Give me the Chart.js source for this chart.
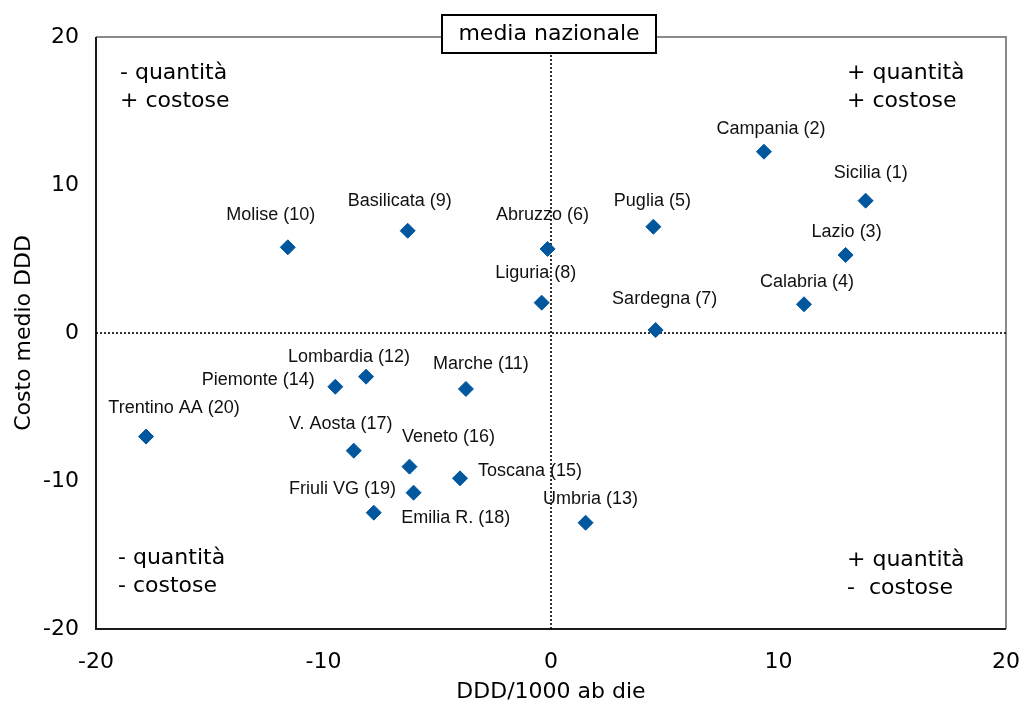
<!DOCTYPE html>
<html><head><meta charset="utf-8">
<script src="https://cdn.jsdelivr.net/npm/chart.js@4/dist/chart.umd.min.js"></script>
<style>html,body{margin:0;padding:0;background:#fff}#wrap{width:1022px;height:706px}</style>
</head><body><div id="wrap"><canvas id="c" width="1022" height="706"></canvas></div>
<script>
// ---- data ----
const regions = ['Sicilia (1)','Campania (2)','Lazio (3)','Calabria (4)','Puglia (5)','Abruzzo (6)','Sardegna (7)','Liguria (8)','Basilicata (9)','Molise (10)','Marche (11)','Lombardia (12)','Umbria (13)','Piemonte (14)','Toscana (15)','Veneto (16)','V. Aosta (17)','Emilia R. (18)','Friuli VG (19)','Trentino AA (20)'];
const dddPer1000 = [13.83, 9.36, 12.95, 11.12, 4.50, -0.15, 4.60, -0.41, -6.30, -11.57, -3.74, -8.13, 1.52, -9.48, -4.00, -6.22, -8.67, -7.79, -6.04, -17.80];
const costoMedio = [8.94, 12.25, 5.27, 1.94, 7.18, 5.68, 0.20, 2.05, 6.91, 5.79, -3.78, -2.95, -12.82, -3.63, -9.82, -9.03, -7.95, -12.14, -10.79, -7.00];
const mediaX = 0;
const mediaY = 0;
const xTicks = [-20, -10, 0, 10, 20];
const yTicks = [-20, -10, 0, 10, 20];
const quadTopLeft = ['- quantità', '+ costose'];
const quadTopRight = ['+ quantità', '+ costose'];
const quadBottomLeft = ['- quantità', '- costose'];
const quadBottomRight = ['+ quantità', '-  costose'];
const mediaLabel = 'media nazionale';
const xTitle = 'DDD/1000 ab die';
const yTitle = 'Costo medio DDD';

// ---- style (label placement offsets in px, text centre relative to marker) ----
const labelOffsets = [[5,-28],[7,-23],[1,-23],[3,-22],[-1,-26],[-5,-34],[9,-31],[-6,-30],[-8,-30],[-17,-32],[15,-25],[-17,-20],[5,-24],[-77,-7],[70,-7],[39,-30],[-13,-27],[82,5],[-71,-4],[28,-29]];
const BLUE = '#00579E';
const AXFONT = 'DejaVu Sans';

const points = dddPer1000.map((x, i) => ({x: x, y: costoMedio[i]}));

const framePlugin = {
  id: 'frame',
  beforeDatasetsDraw(chart) {
    const {ctx, chartArea: a} = chart;
    ctx.save();
    ctx.strokeStyle = '#8a8a8a';
    ctx.lineWidth = 2;
    ctx.beginPath();
    ctx.moveTo(a.left, a.top); ctx.lineTo(a.right, a.top); ctx.lineTo(a.right, a.bottom);
    ctx.stroke();
    ctx.strokeStyle = '#1a1a1a';
    ctx.beginPath();
    ctx.moveTo(a.left, a.top); ctx.lineTo(a.left, a.bottom); ctx.lineTo(a.right, a.bottom);
    ctx.stroke();
    ctx.restore();
  }
};

const textPlugin = {
  id: 'texts',
  afterDatasetsDraw(chart) {
    const {ctx, chartArea: a, scales} = chart;
    ctx.save();
    // point labels
    const meta = chart.getDatasetMeta(0);
    ctx.font = '18px "Liberation Sans", Arial, sans-serif';
    ctx.fillStyle = '#111';
    ctx.textAlign = 'center';
    ctx.textBaseline = 'middle';
    meta.data.forEach((el, i) => {
      const o = labelOffsets[i];
      ctx.fillText(regions[i], el.x + o[0], el.y + o[1]);
    });
    // quadrant notes
    ctx.font = '22px "' + AXFONT + '"';
    ctx.fillStyle = '#000';
    ctx.textAlign = 'left';
    const drawLines = (lines, x, y, step) => lines.forEach((t, k) => ctx.fillText(t, x, y + k * step));
    drawLines(quadTopLeft, a.left + 24, a.top + 36, 28);
    drawLines(quadTopRight, a.right - 159, a.top + 36, 28);
    drawLines(quadBottomLeft, a.left + 22, a.bottom - 71, 28);
    drawLines(quadBottomRight, a.right - 159, a.bottom - 69, 28);
    // media nazionale box
    const cx = scales.x.getPixelForValue(mediaX) - 2;
    const w = 214, h = 38, cy = a.top - 3;
    ctx.fillStyle = '#fff';
    ctx.fillRect(cx - w / 2, cy - h / 2, w, h);
    ctx.strokeStyle = '#000';
    ctx.lineWidth = 2;
    ctx.strokeRect(cx - w / 2, cy - h / 2, w, h);
    ctx.fillStyle = '#000';
    ctx.textAlign = 'center';
    ctx.fillText(mediaLabel, cx, cy);
    ctx.restore();
  }
};

new Chart(document.getElementById('c'), {
  type: 'scatter',
  data: {
    datasets: [
      {
        data: points,
        pointStyle: 'rectRot',
        pointRadius: 7.5,
        pointHoverRadius: 7.5,
        backgroundColor: BLUE,
        borderColor: BLUE,
        borderWidth: 1,
        order: 0
      },
      {
        type: 'line',
        data: [{x: mediaX, y: yTicks[0]}, {x: mediaX, y: yTicks[yTicks.length - 1]}],
        borderColor: '#000', borderWidth: 1.6, borderDash: [2, 2], pointRadius: 0, fill: false, order: 1
      },
      {
        type: 'line',
        data: [{x: xTicks[0], y: mediaY}, {x: xTicks[xTicks.length - 1], y: mediaY}],
        borderColor: '#000', borderWidth: 1.6, borderDash: [2, 2], pointRadius: 0, fill: false, order: 1
      }
    ]
  },
  options: {
    responsive: false,
    animation: false,
    layout: {padding: {top: 37, right: 16, left: 0, bottom: 0}},
    plugins: {legend: {display: false}, tooltip: {enabled: false}},
    scales: {
      x: {
        type: 'linear', min: xTicks[0], max: xTicks[xTicks.length - 1],
        afterBuildTicks: s => { s.ticks = xTicks.map(v => ({value: v})); },
        afterFit: s => { s.height = 77; s.paddingLeft = 0; s.paddingRight = 0; },
        grid: {display: false, drawTicks: false},
        border: {display: false},
        ticks: {font: {family: AXFONT, size: 22}, color: '#000', padding: 20, maxRotation: 0},
        title: {display: true, text: xTitle, font: {family: AXFONT, size: 22}, color: '#000', padding: {top: 0, bottom: 1}}
      },
      y: {
        type: 'linear', min: yTicks[0], max: yTicks[yTicks.length - 1],
        afterBuildTicks: s => { s.ticks = yTicks.map(v => ({value: v})); },
        afterFit: s => { s.width = 96; s.paddingTop = 0; s.paddingBottom = 0; },
        grid: {display: false, drawTicks: false},
        border: {display: false},
        ticks: {font: {family: AXFONT, size: 22}, color: '#000', padding: 17},
        title: {display: true, text: yTitle, font: {family: AXFONT, size: 22}, color: '#000', padding: {top: 11, bottom: 0}}
      }
    }
  },
  plugins: [framePlugin, textPlugin]
});
</script>
</body></html>
